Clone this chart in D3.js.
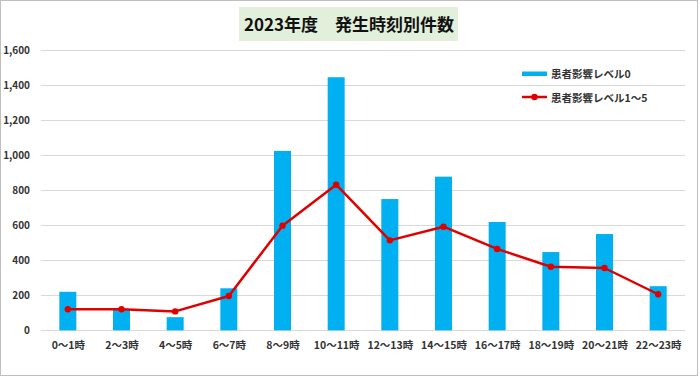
<!DOCTYPE html>
<html><head><meta charset="utf-8">
<script src="https://cdn.jsdelivr.net/npm/d3@7"></script>
<style>html,body{margin:0;padding:0;background:#fff;}svg{display:block;}</style>
</head><body>
<script>
const categories = ["0～1時","2～3時","4～5時","6～7時","8～9時","10～11時","12～13時","14～15時","16～17時","18～19時","20～21時","22～23時"];
const level0 = [220,120,75,240,1025,1446,750,878,619,447,550,252];
const level15 = [120,120,108,196,598,832,514,592,465,363,356,206];
const yTicks = [0,200,400,600,800,1000,1200,1400,1600];
const seriesNames = ["患者影響レベル0","患者影響レベル1～5"];
const titleText = "2023年度　発生時刻別件数";

const W = 700, H = 378;
const font = "'Noto Sans CJK JP','Noto Sans',sans-serif";
const svg = d3.select("body").append("svg").attr("width", W).attr("height", H);

svg.append("rect").attr("x",0.5).attr("y",0.5).attr("width",697).attr("height",375)
  .attr("fill","#fff").attr("stroke","#bfbfbf").attr("stroke-width",1);

// title
svg.append("rect").attr("x",239).attr("y",7).attr("width",219).attr("height",34).attr("fill","#e2efda");
svg.append("text").attr("x",349).attr("y",30.5).attr("text-anchor","middle")
  .attr("font-family",font).attr("font-weight","bold").attr("font-size",17).attr("fill","#111")
  .text(titleText);

const xc = d3.scalePoint().domain(categories).range([41,685]).padding(0.5);
const y = d3.scaleLinear().domain([0,1600]).range([330.3,50.3]);

// gridlines
svg.append("g").selectAll("line").data(yTicks).join("line")
  .attr("x1",41).attr("x2",685).attr("y1",d=>Math.round(y(d))+0.5).attr("y2",d=>Math.round(y(d))+0.5)
  .attr("stroke","#d9d9d9").attr("stroke-width",1);

// y axis labels
const yAxis = d3.axisLeft(y).tickValues(yTicks).tickSize(0).tickPadding(0).tickFormat(d3.format(","));
const ya = svg.append("g").attr("transform","translate(30,0)").call(yAxis);
ya.select(".domain").remove();
ya.selectAll("text").attr("font-family",font).attr("font-size",10).attr("font-weight","bold").attr("fill","#333");

// bars
svg.append("g").selectAll("rect").data(level0).join("rect")
  .attr("x",(d,i)=>xc(categories[i]) - 8.5).attr("width",17)
  .attr("y",d=>y(d)).attr("height",d=>y(0)-y(d)).attr("fill","#00b0f0");

// x axis labels
const xAxis = d3.axisBottom(xc).tickSize(0).tickPadding(0);
const xa = svg.append("g").attr("transform","translate(0,342)").call(xAxis);
xa.select(".domain").remove();
xa.selectAll("text").attr("font-family",font).attr("font-size",10.5).attr("font-weight","bold").attr("fill","#333");

// line
const line = d3.line().x((d,i)=>xc(categories[i])).y(d=>y(d));
svg.append("path").datum(level15).attr("d",line).attr("fill","none")
  .attr("stroke","#e00000").attr("stroke-width",2.5).attr("stroke-linejoin","round");
svg.append("g").selectAll("circle").data(level15).join("circle")
  .attr("cx",(d,i)=>xc(categories[i])).attr("cy",d=>y(d)).attr("r",3.2).attr("fill","#e00000");

// legend
const lg = svg.append("g");
lg.append("rect").attr("x",522).attr("y",71.5).attr("width",25).attr("height",4.5).attr("fill","#00b0f0");
lg.append("text").attr("x",551).attr("y",78).attr("font-family",font).attr("font-size",10.5).attr("font-weight","bold").attr("fill","#333").text(seriesNames[0]);
lg.append("line").attr("x1",522).attr("x2",547).attr("y1",97).attr("y2",97).attr("stroke","#e00000").attr("stroke-width",2.5);
lg.append("circle").attr("cx",534.5).attr("cy",97).attr("r",3.2).attr("fill","#e00000");
lg.append("text").attr("x",551).attr("y",101.5).attr("font-family",font).attr("font-size",10.5).attr("font-weight","bold").attr("fill","#333").text(seriesNames[1]);
</script>
</body></html>
